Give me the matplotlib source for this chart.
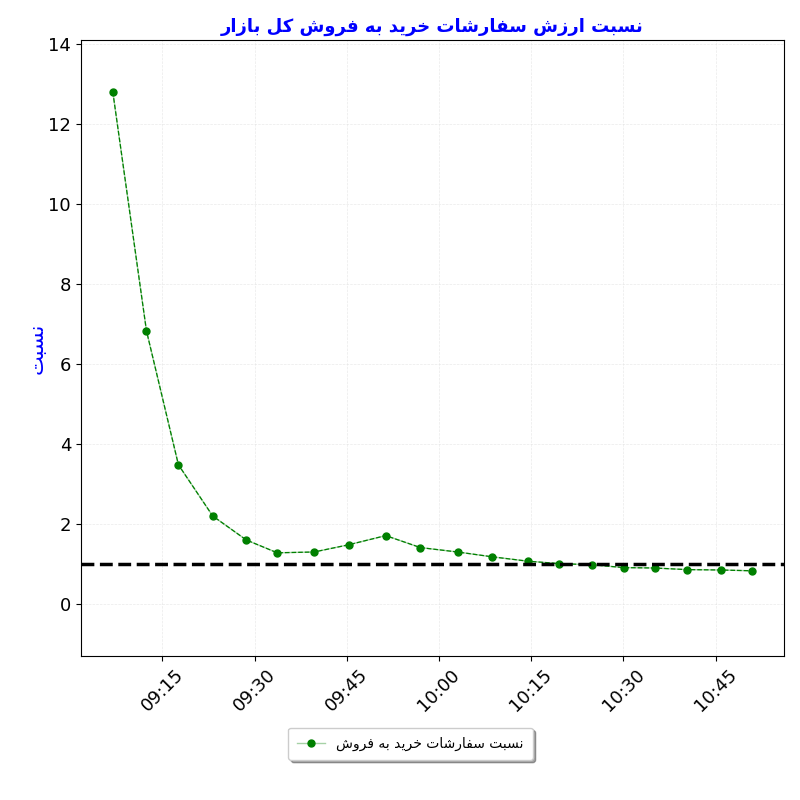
import datetime as dt
import matplotlib
matplotlib.use('Agg')
import matplotlib.pyplot as plt
import matplotlib.dates as mdates

# times of the samples (HH:MM:SS) and buy/sell order value ratio
times = ['09:06:55', '09:12:24', '09:17:36', '09:23:11', '09:28:39',
         '09:33:41', '09:39:40', '09:45:17', '09:51:20', '09:56:59',
         '10:03:02', '10:08:38', '10:14:29', '10:19:34', '10:24:56',
         '10:30:05', '10:35:04', '10:40:19', '10:45:51', '10:50:56']
ratio = [12.81, 6.83, 3.48, 2.20, 1.60, 1.28, 1.30, 1.48, 1.71, 1.41,
         1.30, 1.18, 1.07, 1.01, 0.98, 0.91, 0.90, 0.86, 0.85, 0.83]

title_txt = 'نسبت ارزش سفارشات خرید به فروش کل بازار'
ylabel_txt = 'نسبت'
legend_txt = 'نسبت سفارشات خرید به فروش'

# presentation forms: isolated, final, initial, medial
FORMS = {
    'ا': ('\uFE8D', '\uFE8E', None, None),
    'ب': ('\uFE8F', '\uFE90', '\uFE91', '\uFE92'),
    'ت': ('\uFE95', '\uFE96', '\uFE97', '\uFE98'),
    'خ': ('\uFEA5', '\uFEA6', '\uFEA7', '\uFEA8'),
    'د': ('\uFEA9', '\uFEAA', None, None),
    'ر': ('\uFEAD', '\uFEAE', None, None),
    'ز': ('\uFEAF', '\uFEB0', None, None),
    'س': ('\uFEB1', '\uFEB2', '\uFEB3', '\uFEB4'),
    'ش': ('\uFEB5', '\uFEB6', '\uFEB7', '\uFEB8'),
    'ف': ('\uFED1', '\uFED2', '\uFED3', '\uFED4'),
    'ل': ('\uFEDD', '\uFEDE', '\uFEDF', '\uFEE0'),
    'ن': ('\uFEE5', '\uFEE6', '\uFEE7', '\uFEE8'),
    'ه': ('\uFEE9', '\uFEEA', '\uFEEB', '\uFEEC'),
    'و': ('\uFEED', '\uFEEE', None, None),
    'ک': ('\uFB8E', '\uFB8F', '\uFB90', '\uFB91'),
    'ی': ('\uFBFC', '\uFBFD', '\uFBFE', '\uFBFF'),
}


def fa(text):
    '''shape persian letters and put them in visual (rtl) order'''
    out = []
    for i, ch in enumerate(text):
        if ch not in FORMS:
            out.append(ch)
            continue
        prev = text[i - 1] if i > 0 else ' '
        nxt = text[i + 1] if i + 1 < len(text) else ' '
        join_prev = prev in FORMS and FORMS[prev][2] is not None
        join_next = nxt in FORMS and FORMS[ch][2] is not None
        iso, fin, ini, med = FORMS[ch]
        if join_prev and join_next:
            out.append(med)
        elif join_prev:
            out.append(fin)
        elif join_next:
            out.append(ini)
        else:
            out.append(iso)
    return ''.join(out)[::-1]


x = [dt.datetime.strptime('2023-01-01 ' + t, '%Y-%m-%d %H:%M:%S') for t in times]

fig = plt.figure(figsize=(8, 8), dpi=100)
ax = fig.add_axes([0.101, 0.18, 0.879, 0.77])

ax.plot(x, ratio, color='green', linestyle='--', linewidth=0.9)
ax.plot(x, ratio, color=(0.0, 0.5, 0.0, 0.35), linewidth=1.0, marker='o',
        markersize=5, markerfacecolor='green', markeredgecolor='green',
        label=fa(legend_txt))
ax.axhline(1, color='black', linestyle='--', linewidth=2.5)

ax.set_ylim(-1.3, 14.1)
ax.xaxis.set_major_locator(mdates.MinuteLocator(byminute=[0, 15, 30, 45]))
ax.xaxis.set_major_formatter(mdates.DateFormatter('%H:%M'))
plt.setp(ax.get_xticklabels(), rotation=45)
ax.tick_params(labelsize=13)
ax.grid(True, color='#dddddd', linestyle='--', linewidth=0.5, alpha=0.6)

ax.set_title(fa(title_txt), color='blue', fontsize=13, fontweight='bold', pad=6)
ax.set_ylabel(fa(ylabel_txt), color='blue', fontsize=15, labelpad=1)

ax.legend(loc='upper center', bbox_to_anchor=(0.469, -0.105), shadow=True,
          fancybox=True, fontsize=10, borderpad=0.65)

fig.savefig('out.png', dpi=100)
